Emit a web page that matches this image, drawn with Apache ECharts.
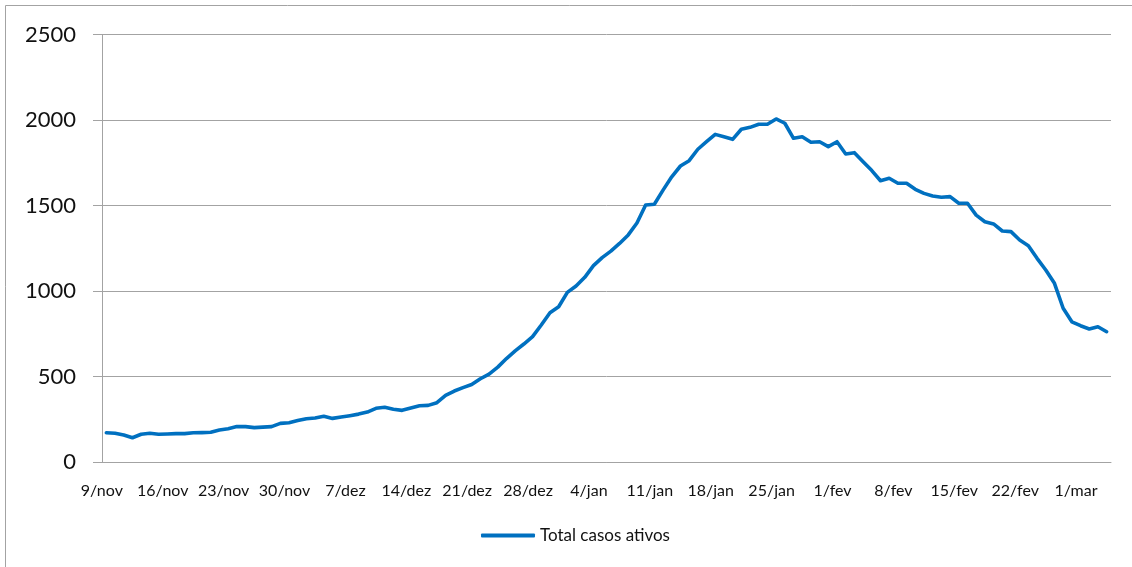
<!DOCTYPE html>
<html>
<head>
<meta charset="utf-8">
<script src="https://cdn.jsdelivr.net/npm/echarts@6/dist/echarts.min.js"></script>
<style>
  html, body { margin: 0; padding: 0; background: #fff; }
  #chart { width: 1132px; height: 567px; }
</style>
</head>
<body>
<div id="chart"></div>
<script>
// daily counts from 9/nov to 4/mar
const startDay = 9;
const months = ['nov', 'dez', 'jan', 'fev', 'mar'];
const monthLengths = [30, 31, 31, 28, 31];
const activeCases = [
  171, 168, 158, 142, 162, 168, 162, 164, 166, 166,
  171, 172, 174, 187, 195, 207, 207, 201, 204, 207,
  226, 230, 242, 253, 257, 267, 255, 263, 271, 280,
  292, 314, 320, 308, 302, 316, 329, 331, 347, 390,
  415, 435, 453, 487, 514, 555, 605, 650, 690, 733,
  801, 873, 908, 992, 1029, 1080, 1148, 1195, 1233, 1278,
  1328, 1398, 1503, 1507, 1590, 1668, 1731, 1762, 1829, 1873,
  1916, 1902, 1887, 1946, 1957, 1975, 1975, 2006, 1981, 1893,
  1902, 1870, 1873, 1844, 1873, 1801, 1809, 1756, 1704, 1645,
  1659, 1630, 1630, 1595, 1571, 1556, 1548, 1552, 1513, 1513,
  1444, 1405, 1392, 1351, 1347, 1298, 1265, 1191, 1123, 1045,
  899, 820, 797, 778, 791, 762
];
const seriesName = 'Total casos ativos';

const dates = [];
let m = 0, d = startDay;
for (let i = 0; i < activeCases.length; i++) {
  dates.push(d + '/' + months[m]);
  d++;
  if (d > monthLengths[m]) { d = 1; m++; }
}

const gridColor = '#a3a3a3';
const lineColor = '#0070c0';
const font = 'Lato, "Open Sans", sans-serif';

const chart = echarts.init(document.getElementById('chart'));
chart.setOption({
  backgroundColor: '#fff',
  animation: false,
  graphic: [{
    type: 'rect',
    shape: { x: 5.5, y: 5.5, width: 2000, height: 2000 },
    style: { fill: 'none', stroke: gridColor, lineWidth: 1 },
    silent: true
  }],
  grid: { left: 102, right: 21, top: 34.5, bottom: 105 },
  legend: {
    data: [{ name: seriesName, icon: 'roundRect' }],
    left: 476,
    top: 522,
    itemWidth: 54,
    itemHeight: 4,
    itemStyle: { color: lineColor },
    textStyle: { fontFamily: font, fontSize: 17, color: '#111' }
  },
  xAxis: {
    type: 'category',
    data: dates,
    boundaryGap: true,
    axisLine: { lineStyle: { color: gridColor, width: 1 } },
    axisTick: {
      length: 5,
      interval: (i) => i % 7 === 0,
      lineStyle: { color: gridColor }
    },
    axisLabel: {
      interval: (i) => i % 7 === 0,
      margin: 21,
      padding: [0, 9, 0, 0],
      fontFamily: font,
      fontSize: 16,
      color: '#111'
    }
  },
  yAxis: {
    type: 'value',
    min: 0,
    max: 2500,
    interval: 500,
    axisLine: { show: true, lineStyle: { color: gridColor, width: 1 } },
    axisTick: { show: true, length: 9, lineStyle: { color: gridColor } },
    splitLine: { lineStyle: { color: gridColor, width: 1 } },
    axisLabel: {
      margin: 26,
      formatter: (v) => String(v),
      fontFamily: font,
      fontSize: 22,
      color: '#111'
    }
  },
  series: [{
    name: seriesName,
    type: 'line',
    data: activeCases,
    symbol: 'none',
    lineStyle: { color: lineColor, width: 3.6, join: 'round', cap: 'round' },
    itemStyle: { color: lineColor }
  }]
});
window.addEventListener('resize', () => chart.resize());
</script>
</body>
</html>
